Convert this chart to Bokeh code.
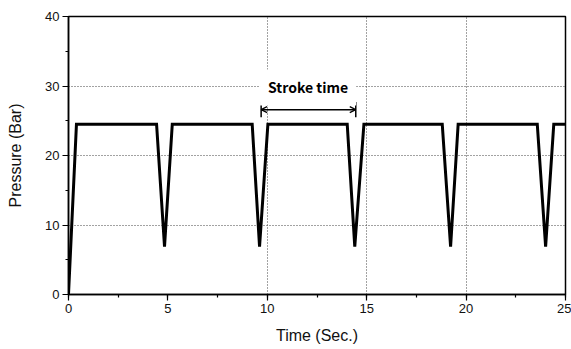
from bokeh.plotting import figure
from bokeh.models import (Range1d, SingleIntervalTicker, FixedTicker, Arrow, OpenHead,
                          Label, ColumnDataSource)
from bokeh.embed import file_html
from bokeh.resources import INLINE

# ---- data ----
time_s = [0.0, 0.40, 4.43, 4.83, 5.22, 9.24, 9.61, 10.03, 14.02, 14.40, 14.86,
          18.80, 19.22, 19.60, 23.58, 24.00, 24.41, 25.0]
pressure_bar = [0.0, 24.5, 24.5, 6.9, 24.5, 24.5, 6.9, 24.5, 24.5, 6.9, 24.5,
                24.5, 6.9, 24.5, 24.5, 6.9, 24.5, 24.5]

x_ticks_grid = [10, 15, 20]
y_ticks_grid = [10, 20, 30]

stroke_label = "Stroke time"
stroke_start = 9.69
stroke_end = 14.45
stroke_y = 26.6
stroke_bar_lo = 25.5
stroke_bar_hi = 27.7
stroke_text_x = 12.05
stroke_text_y = 29.8

FONT = "Liberation Sans"

p = figure(width=571, height=349, output_backend="svg", toolbar_location=None,
           x_range=Range1d(0, 25), y_range=Range1d(0, 40),
           min_border_left=68, min_border_right=6, min_border_top=16, min_border_bottom=55)
p.background_fill_color = "white"
p.border_fill_color = "white"
p.outline_line_color = "black"
p.outline_line_width = 1.5

# axes
p.xaxis.ticker = SingleIntervalTicker(interval=5, num_minor_ticks=2)
p.yaxis.ticker = SingleIntervalTicker(interval=10, num_minor_ticks=2)
for ax in (p.xaxis, p.yaxis):
    ax.axis_line_color = "black"
    ax.axis_line_width = 1.5
    ax.major_tick_line_color = "black"
    ax.major_tick_line_width = 1.2
    ax.minor_tick_line_color = "black"
    ax.minor_tick_line_width = 1.2
    ax.major_tick_in = 0
    ax.major_tick_out = 6
    ax.minor_tick_in = 0
    ax.minor_tick_out = 3
    ax.major_label_text_font = FONT
    ax.major_label_text_font_size = "13px"
    ax.major_label_text_color = "#111111"
    ax.major_label_standoff = 3
    ax.axis_label_text_font = FONT
    ax.axis_label_text_font_size = "16px"
    ax.axis_label_text_font_style = "normal"
    ax.axis_label_text_color = "#111111"
p.xaxis.axis_label = "Time (Sec.)"
p.yaxis.axis_label = "Pressure (Bar)"
p.xaxis.axis_label_standoff = 11
p.yaxis.axis_label_standoff = 18

# grids
p.xgrid.ticker = FixedTicker(ticks=x_ticks_grid)
p.ygrid.ticker = FixedTicker(ticks=y_ticks_grid)
for g in (p.xgrid, p.ygrid):
    g.grid_line_color = "#444444"
    g.grid_line_width = 1
    g.grid_line_dash = "1 2"

# waveform
src = ColumnDataSource(data=dict(t=time_s, pr=pressure_bar))
p.line("t", "pr", source=src, line_color="black", line_width=3, line_join="miter")

# stroke time annotation
lbl = Label(x=stroke_text_x, y=stroke_text_y, text=stroke_label,
            text_font="Noto Sans CJK KR", text_font_style="bold", text_font_size="14px",
            text_align="center", text_baseline="middle", text_color="black",
            background_fill_color="white", background_fill_alpha=1.0, padding=8)
p.add_layout(lbl)

p.segment(x0=[stroke_start, stroke_end], y0=[stroke_bar_lo, stroke_bar_lo],
          x1=[stroke_start, stroke_end], y1=[stroke_bar_hi, stroke_bar_hi],
          line_color="black", line_width=1.5)
arr = Arrow(x_start=stroke_start, y_start=stroke_y, x_end=stroke_end, y_end=stroke_y,
            line_color="black", line_width=1.5,
            start=OpenHead(size=6, line_width=1.2, line_color="black"),
            end=OpenHead(size=6, line_width=1.2, line_color="black"))
p.add_layout(arr)

open("out.html", "w").write(file_html(p, INLINE))
